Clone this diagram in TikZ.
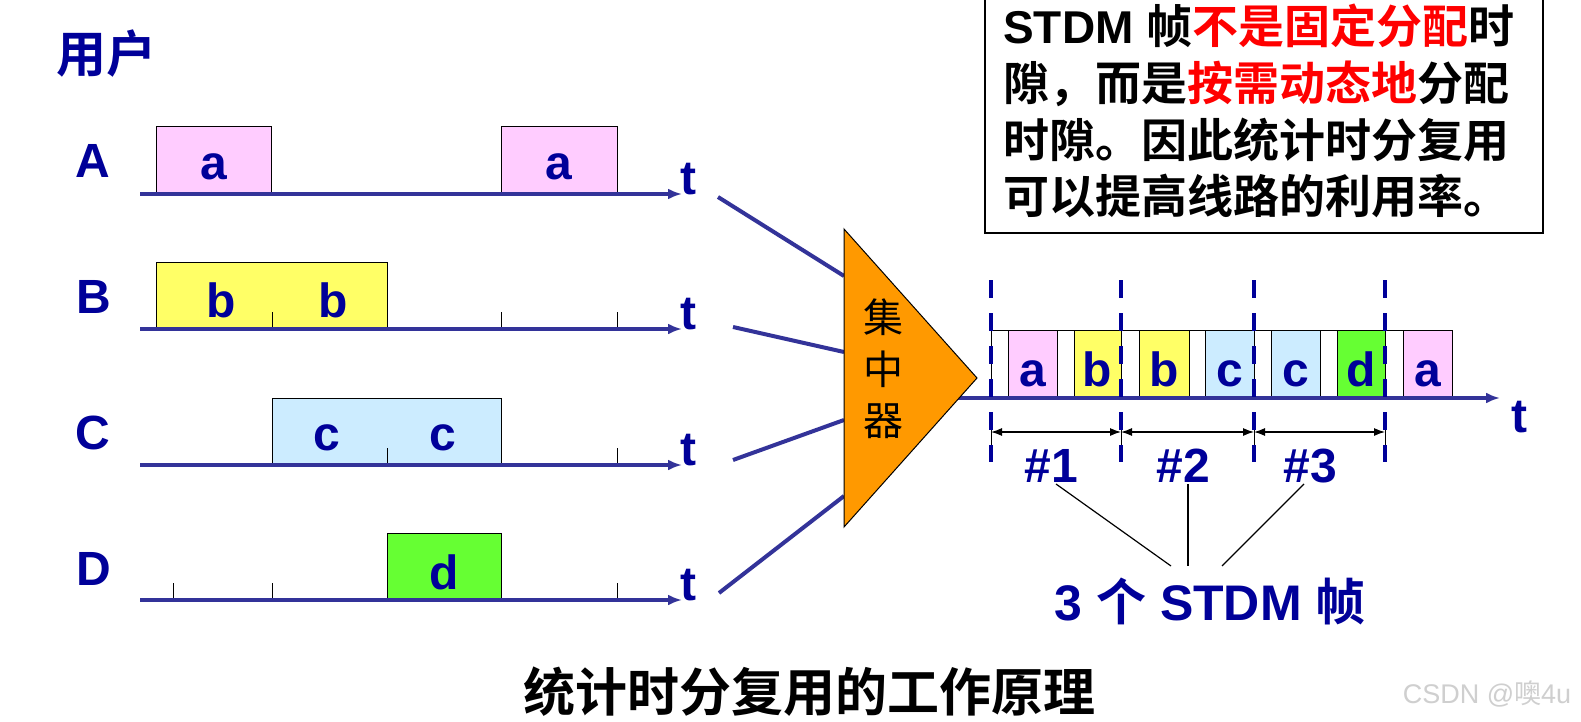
\documentclass[tikz,border=0pt]{standalone}
\usepackage{fontspec}
\setmainfont{Liberation Sans}
\newfontfamily\cjk{Noto Sans CJK SC}[BoldFont={Noto Sans CJK SC Bold}]
\usetikzlibrary{arrows.meta}
\definecolor{axisblue}{HTML}{333399}
\definecolor{txtblue}{HTML}{000099}
\definecolor{pinkA}{HTML}{FFCCFF}
\definecolor{yelB}{HTML}{FFFF66}
\definecolor{bluC}{HTML}{CCECFF}
\definecolor{grnD}{HTML}{66FF33}
\definecolor{orng}{HTML}{FF9900}
\definecolor{wmgray}{HTML}{CFCFCF}
\begin{document}
\begin{tikzpicture}[x=1pt,y=-1pt,
  axisline/.style={line width=4pt, draw=axisblue, -{Latex[length=14pt,width=11pt]}},
  feed/.style={line width=4pt, draw=axisblue},
  cellbox/.style={draw=black, line width=1pt},
  tickline/.style={draw=black, line width=1pt},
  big/.style={font=\fontsize{48}{50}\selectfont\bfseries, text=txtblue, inner sep=0pt},
  boxtxt/.style={font=\fontsize{46}{50}\selectfont\bfseries, text=black, inner sep=0pt},
  dimline/.style={draw=black, line width=1.2pt, {Latex[length=11pt,width=8pt]}-{Latex[length=11pt,width=8pt]}},
  frameline/.style={draw=txtblue, line width=3.5pt, dash pattern=on 18pt off 15pt},
  pointer/.style={draw=black, line width=1.2pt}
]
\useasboundingbox (0,0) rectangle (1581,722);
\fill[white] (0,0) rectangle (1581,722);

% title user
\node[font=\cjk\fontsize{50}{52}\selectfont\bfseries, text=txtblue, inner sep=0pt, anchor=base west] (user) at (56,73) {用户};

% ---------- Row A ----------
\node[big, anchor=base] (labA) at (93,178) {A};
\draw[cellbox, fill=pinkA] (156,127) rectangle (271,194);
\draw[cellbox, fill=pinkA] (501,127) rectangle (617,194);
\draw[axisline] (140,194) -- (682,194);
\node[big, anchor=base] (a1) at (214,179) {a};
\node[big, anchor=base] (a2) at (559,180) {a};
\node[big, anchor=base] (tA) at (688,194) {t};

% ---------- Row B ----------
\node[big, anchor=base] (labB) at (94,313) {B};
\draw[cellbox, fill=yelB] (156,262) rectangle (387,329);
\foreach \x in {272,501,617} \draw[tickline] (\x,329) -- (\x,312);
\draw[axisline] (140,329) -- (682,329);
\node[big, anchor=base] (b1) at (221,317) {b};
\node[big, anchor=base] (b2) at (333,317) {b};
\node[big, anchor=base] (tB) at (688,329) {t};

% ---------- Row C ----------
\node[big, anchor=base] (labC) at (93,449) {C};
\draw[cellbox, fill=bluC] (272,398) rectangle (501,465);
\foreach \x in {387,617} \draw[tickline] (\x,465) -- (\x,448);
\draw[axisline] (140,465) -- (682,465);
\node[big, anchor=base] (c1) at (327,450) {c};
\node[big, anchor=base] (c2) at (443,450) {c};
\node[big, anchor=base] (tC) at (688,465) {t};

% ---------- Row D ----------
\node[big, anchor=base] (labD) at (94,585) {D};
\draw[cellbox, fill=grnD] (387,533) rectangle (501,600);
\foreach \x in {173,272,617} \draw[tickline] (\x,600) -- (\x,583);
\draw[axisline] (140,600) -- (682,600);
\node[big, anchor=base] (d1) at (444,589) {d};
\node[big, anchor=base] (tD) at (688,600) {t};

% ---------- feed lines into concentrator ----------
\coordinate (s1) at (718,197); \coordinate (e1) at (844,276);
\coordinate (s2) at (733,327); \coordinate (e2) at (844,352);
\coordinate (s3) at (733,460); \coordinate (e3) at (844,420);
\coordinate (s4) at (719,593); \coordinate (e4) at (844,496);
\draw[feed] (s1) -- (e1);
\draw[feed] (s2) -- (e2);
\draw[feed] (s3) -- (e3);
\draw[feed] (s4) -- (e4);

% ---------- output frame cells ----------
\foreach \xa/\xb in {991/1008,1057/1074,1121/1139,1189/1205,1254/1271,1320/1337,1385/1403}
  \draw[cellbox, fill=white] (\xa,330) rectangle (\xb,398);
\foreach \xa/\xb/\col/\ch [count=\i] in {1008/1057/pinkA/a,1074/1121/yelB/b,1139/1189/yelB/b,1205/1254/bluC/c,1271/1320/bluC/c,1337/1385/grnD/d,1403/1452/pinkA/a}{
  \draw[cellbox, fill=\col] (\xa,330) rectangle (\xb,398);
  \node[big, anchor=base] (o\i) at ({(\xa+\xb)/2},386) {\ch};
}
\draw[axisline] (950,398) -- (1500,398);
\node[big, anchor=base] (tOut) at (1519,432) {t};

% ---------- concentrator ----------
\draw[fill=orng, draw=black, line width=1pt] (844,229) -- (977,378) -- (844,527) -- cycle;
\node[font=\cjk\fontsize{40}{51.5}\selectfont, align=center, inner sep=0pt] (conc) at (883,369) {集\\中\\器};

% ---------- frame boundaries & dimensions ----------
\coordinate (f0) at (991,432); \coordinate (f1) at (1121,432);
\coordinate (f2) at (1254,432); \coordinate (f3) at (1385,432);
\foreach \x in {991,1121,1254,1385} \draw[black, line width=1pt] (\x,415) -- (\x,460);
\draw[dimline] (f0) -- (f1);
\draw[dimline] (f1) -- (f2);
\draw[dimline] (f2) -- (f3);
\foreach \x in {991,1121,1254,1385} \draw[frameline] (\x,280) -- (\x,462);

\node[big, anchor=base] (n1) at (1051,482) {\#1};
\node[big, anchor=base] (n2) at (1183,482) {\#2};
\node[big, anchor=base] (n3) at (1310,482) {\#3};

\node[font=\fontsize{50}{52}\selectfont\bfseries, text=txtblue, inner sep=0pt, anchor=base] (three) at (1210,620) {3 {\cjk 个} STDM {\cjk 帧}};
\coordinate (p1) at (1171,566); \coordinate (p2) at (1188,566); \coordinate (p3) at (1222,566);
\coordinate (q1) at (1056,484); \coordinate (q2) at (1188,484); \coordinate (q3) at (1304,484);
\draw[pointer] (q1) -- (p1);
\draw[pointer] (q2) -- (p2);
\draw[pointer] (q3) -- (p3);

% ---------- explanation box ----------
\draw[black, line width=1.3pt, fill=white] (985,-10) rectangle (1543,233);
\node[boxtxt, anchor=base west] (l1) at (1003,44) {STDM {\cjk 帧\textcolor{red}{不是固定分配}时}};
\node[boxtxt, anchor=base west] (l2) at (1003,101) {\cjk 隙，而是\textcolor{red}{按需动态地}分配};
\node[boxtxt, anchor=base west] (l3) at (1003,158) {\cjk 时隙。因此统计时分复用};
\node[boxtxt, anchor=base west] (l4) at (1003,214) {\cjk 可以提高线路的利用率。};

% ---------- caption ----------
\node[font=\cjk\fontsize{52}{54}\selectfont\bfseries, text=black, inner sep=0pt, anchor=base] (caption) at (809,711) {统计时分复用的工作原理};

% watermark
\node[font=\fontsize{27}{29}\selectfont, text=wmgray, inner sep=0pt, anchor=base] (wm) at (1487,703) {CSDN @{\cjk 噢}4u};
\end{tikzpicture}
\end{document}
